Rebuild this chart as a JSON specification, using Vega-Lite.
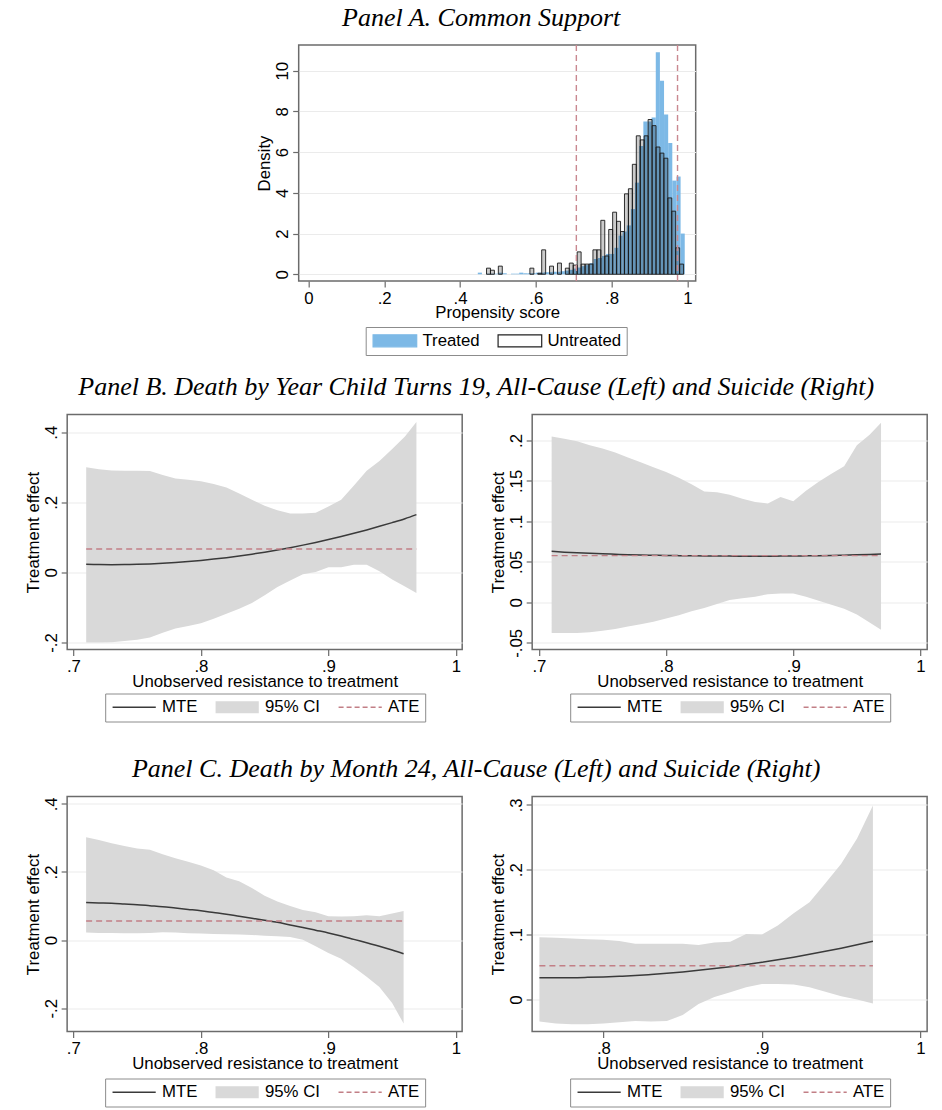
{
  "$schema": "https://vega.github.io/schema/vega-lite/v6.json",
  "background": "white",
  "padding": {"left": 24, "top": 4, "right": 0, "bottom": 0},
  "autosize": {"type": "pad"},
  "config": {
    "font": "Liberation Sans",
    "view": {"stroke": "#6b6b6b", "strokeWidth": 1.5},
    "title": {"font": "Liberation Serif", "fontStyle": "italic", "fontWeight": "normal", "fontSize": 26, "color": "#000000", "anchor": "middle", "offset": 13.5},
    "axis": {"domain": false, "tickColor": "#6b6b6b", "tickSize": 6, "tickWidth": 1.2, "labelFont": "Liberation Sans", "labelFontSize": 16.8, "labelColor": "#000000", "titleFont": "Liberation Sans", "titleFontSize": 16.8, "titleFontWeight": "normal", "titleColor": "#000000", "labelFlush": false, "labelOverlap": false, "gridColor": "#ebebeb", "gridWidth": 1.2,
      "labelExpr": "(datum.value < 0 ? '-' : '') + replace(format(abs(datum.value), '~g'), '0.', '.')"},
    "axisX": {"grid": false, "labelPadding": 3, "titlePadding": -2},
    "axisY": {"grid": true, "labelAngle": 270, "labelAlign": "center", "labelBaseline": "bottom", "labelPadding": 1, "titlePadding": 1},
    "legend": {"orient": "none", "legendX": 38, "legendY": 279, "direction": "horizontal", "padding": 5, "strokeColor": "#8c8c8c", "fillColor": "#ffffff", "labelFont": "Liberation Sans", "labelFontSize": 16.8, "labelColor": "#000000", "columnPadding": 15, "symbolSize": 144, "labelOffset": 35}
  },
  "spacing": 32.5,
  "center": true,
  "resolve": {"scale": {"color": "independent", "fill": "independent"}, "legend": {"color": "independent", "fill": "independent"}},
  "vconcat": [
    {
      "spacing": 16.5,
      "center": true,
      "resolve": {"scale": {"color": "independent", "fill": "independent"}, "legend": {"color": "independent", "fill": "independent"}},
      "vconcat": [
        {
          "title": {"text": "Panel A. Common Support", "dx": -16},
          "width": 397,
          "height": 236,
          "layer": [
            {
              "data": {"values": [
                {"b0": 0.4470, "b1": 0.4579, "dens": 0.08},
                {"b0": 0.4688, "b1": 0.4798, "dens": 0.03},
                {"b0": 0.4798, "b1": 0.4907, "dens": 0.03},
                {"b0": 0.4907, "b1": 0.5016, "dens": 0.03},
                {"b0": 0.5016, "b1": 0.5125, "dens": 0.08},
                {"b0": 0.5125, "b1": 0.5234, "dens": 0.05},
                {"b0": 0.5344, "b1": 0.5453, "dens": 0.03},
                {"b0": 0.5453, "b1": 0.5562, "dens": 0.03},
                {"b0": 0.5562, "b1": 0.5671, "dens": 0.08},
                {"b0": 0.5671, "b1": 0.5780, "dens": 0.05},
                {"b0": 0.5780, "b1": 0.5890, "dens": 0.05},
                {"b0": 0.5890, "b1": 0.5999, "dens": 0.05},
                {"b0": 0.5999, "b1": 0.6108, "dens": 0.08},
                {"b0": 0.6108, "b1": 0.6217, "dens": 0.08},
                {"b0": 0.6217, "b1": 0.6326, "dens": 0.10},
                {"b0": 0.6326, "b1": 0.6436, "dens": 0.10},
                {"b0": 0.6436, "b1": 0.6545, "dens": 0.12},
                {"b0": 0.6545, "b1": 0.6654, "dens": 0.12},
                {"b0": 0.6654, "b1": 0.6763, "dens": 0.15},
                {"b0": 0.6763, "b1": 0.6872, "dens": 0.18},
                {"b0": 0.6872, "b1": 0.6982, "dens": 0.22},
                {"b0": 0.6982, "b1": 0.7091, "dens": 0.28},
                {"b0": 0.7091, "b1": 0.7200, "dens": 0.33},
                {"b0": 0.7200, "b1": 0.7309, "dens": 0.40},
                {"b0": 0.7309, "b1": 0.7418, "dens": 0.45},
                {"b0": 0.7418, "b1": 0.7528, "dens": 0.55},
                {"b0": 0.7528, "b1": 0.7637, "dens": 0.75},
                {"b0": 0.7637, "b1": 0.7746, "dens": 0.80},
                {"b0": 0.7746, "b1": 0.7855, "dens": 0.90},
                {"b0": 0.7855, "b1": 0.7964, "dens": 1.00},
                {"b0": 0.7964, "b1": 0.8074, "dens": 1.00},
                {"b0": 0.8074, "b1": 0.8183, "dens": 1.30},
                {"b0": 0.8183, "b1": 0.8292, "dens": 1.90},
                {"b0": 0.8292, "b1": 0.8401, "dens": 2.10},
                {"b0": 0.8401, "b1": 0.8510, "dens": 2.40},
                {"b0": 0.8510, "b1": 0.8620, "dens": 3.20},
                {"b0": 0.8620, "b1": 0.8729, "dens": 4.50},
                {"b0": 0.8729, "b1": 0.8838, "dens": 6.30},
                {"b0": 0.8838, "b1": 0.8947, "dens": 7.50},
                {"b0": 0.8947, "b1": 0.9056, "dens": 7.50},
                {"b0": 0.9056, "b1": 0.9166, "dens": 7.70},
                {"b0": 0.9166, "b1": 0.9275, "dens": 10.90},
                {"b0": 0.9275, "b1": 0.9384, "dens": 9.50},
                {"b0": 0.9384, "b1": 0.9493, "dens": 7.85},
                {"b0": 0.9493, "b1": 0.9602, "dens": 6.45},
                {"b0": 0.9602, "b1": 0.9712, "dens": 4.60},
                {"b0": 0.9712, "b1": 0.9821, "dens": 4.80},
                {"b0": 0.9821, "b1": 0.9930, "dens": 2.00}
              ]},
              "mark": {"type": "rect", "fill": "#7db9e6"},
              "encoding": {
                "x": {"field": "b0", "type": "quantitative", "title": "Propensity score", "scale": {"domain": [-0.0256, 1.0219], "nice": false, "zero": false}, "axis": {"values": [0, 0.2, 0.4, 0.6, 0.8, 1]}},
                "x2": {"field": "b1"},
                "y": {"field": "dens", "type": "quantitative", "title": "Density", "scale": {"domain": [-0.33, 11.26], "nice": false, "zero": false}, "axis": {"values": [0, 2, 4, 6, 8, 10]}},
                "y2": {"datum": 0},
                "fill": {"datum": "Treated", "scale": {"domain": ["Treated", "Untreated"], "range": ["#7db9e6", "#ffffff"]},
                  "legend": {"legendX": 67, "legendY": 282, "title": null,
                    "encode": {"symbols": {"update": {
                      "shape": {"value": "M-1,-1H6.27V1H-1Z"},
                      "fill": {"signal": "datum.value === 'Treated' ? '#7db9e6' : '#ffffff'"},
                      "stroke": {"signal": "datum.value === 'Treated' ? '#7db9e6' : '#222222'"},
                      "strokeWidth": {"value": 1.2},
                      "strokeOpacity": {"value": 1},
                      "fillOpacity": {"value": 1},
                      "opacity": {"value": 1}}}}}}
              }
            },
            {
              "data": {"values": [
                {"b0": 0.4700, "b1": 0.4804, "dens": 0.3},
                {"b0": 0.4804, "b1": 0.4908, "dens": 0.2},
                {"b0": 0.5012, "b1": 0.5116, "dens": 0.4},
                {"b0": 0.5844, "b1": 0.5948, "dens": 0.3},
                {"b0": 0.6052, "b1": 0.6156, "dens": 0.05},
                {"b0": 0.6156, "b1": 0.6260, "dens": 1.2},
                {"b0": 0.6364, "b1": 0.6468, "dens": 0.4},
                {"b0": 0.6572, "b1": 0.6676, "dens": 0.55},
                {"b0": 0.6780, "b1": 0.6884, "dens": 0.3},
                {"b0": 0.6884, "b1": 0.6988, "dens": 0.55},
                {"b0": 0.6988, "b1": 0.7092, "dens": 0.45},
                {"b0": 0.7092, "b1": 0.7196, "dens": 1.1},
                {"b0": 0.7196, "b1": 0.7300, "dens": 0.5},
                {"b0": 0.7300, "b1": 0.7404, "dens": 0.5},
                {"b0": 0.7404, "b1": 0.7508, "dens": 0.5},
                {"b0": 0.7508, "b1": 0.7612, "dens": 1.2},
                {"b0": 0.7612, "b1": 0.7716, "dens": 1.2},
                {"b0": 0.7716, "b1": 0.7820, "dens": 2.65},
                {"b0": 0.7820, "b1": 0.7924, "dens": 0.9},
                {"b0": 0.7924, "b1": 0.8028, "dens": 2.2},
                {"b0": 0.8028, "b1": 0.8132, "dens": 3.05},
                {"b0": 0.8132, "b1": 0.8236, "dens": 2.6},
                {"b0": 0.8236, "b1": 0.8340, "dens": 2.1},
                {"b0": 0.8340, "b1": 0.8444, "dens": 3.95},
                {"b0": 0.8444, "b1": 0.8548, "dens": 4.2},
                {"b0": 0.8548, "b1": 0.8652, "dens": 5.4},
                {"b0": 0.8652, "b1": 0.8756, "dens": 6.8},
                {"b0": 0.8756, "b1": 0.8860, "dens": 6.6},
                {"b0": 0.8860, "b1": 0.8964, "dens": 6.8},
                {"b0": 0.8964, "b1": 0.9068, "dens": 7.6},
                {"b0": 0.9068, "b1": 0.9172, "dens": 7.3},
                {"b0": 0.9172, "b1": 0.9276, "dens": 6.25},
                {"b0": 0.9276, "b1": 0.9380, "dens": 5.95},
                {"b0": 0.9380, "b1": 0.9484, "dens": 5.7},
                {"b0": 0.9484, "b1": 0.9588, "dens": 3.75},
                {"b0": 0.9588, "b1": 0.9692, "dens": 3.1},
                {"b0": 0.9692, "b1": 0.9796, "dens": 1.3},
                {"b0": 0.9796, "b1": 0.9900, "dens": 0.5}
              ]},
              "mark": {"type": "rect", "fill": "#000000", "fillOpacity": 0.2, "stroke": "#1a1a1a", "strokeWidth": 0.9},
              "encoding": {
                "x": {"field": "b0", "type": "quantitative", "title": "Propensity score"},
                "x2": {"field": "b1"},
                "y": {"field": "dens", "type": "quantitative", "title": "Density"},
                "y2": {"datum": 0}
              }
            },
            {
              "data": {"values": [{"bound": 0.707}, {"bound": 0.974}]},
              "mark": {"type": "rule", "color": "#c98890", "strokeDash": [6, 4], "strokeWidth": 1.4},
              "encoding": {"x": {"field": "bound", "type": "quantitative", "title": "Propensity score"}}
            }
          ]
        },
        {
          "title": {"text": "Panel B. Death by Year Child Turns 19, All-Cause (Left) and Suicide (Right)"},
          "spacing": 26,
          "resolve": {"scale": {"color": "independent"}, "legend": {"color": "independent"}},
          "hconcat": [
            {
              "width": 395,
              "height": 235,
              "layer": [
                {
                  "data": {"values": [
                    {"u": 0.71, "lo": -0.200, "hi": 0.300, "mte": 0.0230},
                    {"u": 0.72, "lo": -0.200, "hi": 0.294, "mte": 0.0222},
                    {"u": 0.73, "lo": -0.199, "hi": 0.291, "mte": 0.0220},
                    {"u": 0.74, "lo": -0.196, "hi": 0.290, "mte": 0.0222},
                    {"u": 0.75, "lo": -0.192, "hi": 0.290, "mte": 0.0230},
                    {"u": 0.76, "lo": -0.186, "hi": 0.289, "mte": 0.0242},
                    {"u": 0.77, "lo": -0.172, "hi": 0.278, "mte": 0.0260},
                    {"u": 0.78, "lo": -0.160, "hi": 0.268, "mte": 0.0282},
                    {"u": 0.79, "lo": -0.153, "hi": 0.264, "mte": 0.0310},
                    {"u": 0.80, "lo": -0.145, "hi": 0.260, "mte": 0.0342},
                    {"u": 0.81, "lo": -0.132, "hi": 0.252, "mte": 0.0379},
                    {"u": 0.82, "lo": -0.118, "hi": 0.242, "mte": 0.0421},
                    {"u": 0.83, "lo": -0.104, "hi": 0.225, "mte": 0.0468},
                    {"u": 0.84, "lo": -0.087, "hi": 0.207, "mte": 0.0520},
                    {"u": 0.85, "lo": -0.065, "hi": 0.190, "mte": 0.0577},
                    {"u": 0.86, "lo": -0.042, "hi": 0.177, "mte": 0.0639},
                    {"u": 0.87, "lo": -0.023, "hi": 0.168, "mte": 0.0706},
                    {"u": 0.88, "lo": -0.005, "hi": 0.168, "mte": 0.0778},
                    {"u": 0.89, "lo": 0.001, "hi": 0.170, "mte": 0.0855},
                    {"u": 0.90, "lo": 0.015, "hi": 0.188, "mte": 0.0937},
                    {"u": 0.91, "lo": 0.015, "hi": 0.207, "mte": 0.1024},
                    {"u": 0.92, "lo": 0.022, "hi": 0.248, "mte": 0.1115},
                    {"u": 0.93, "lo": 0.022, "hi": 0.290, "mte": 0.1212},
                    {"u": 0.94, "lo": 0.003, "hi": 0.318, "mte": 0.1314},
                    {"u": 0.95, "lo": -0.020, "hi": 0.352, "mte": 0.1420},
                    {"u": 0.96, "lo": -0.040, "hi": 0.388, "mte": 0.1532},
                    {"u": 0.969, "lo": -0.059, "hi": 0.429, "mte": 0.1648}
                  ]},
                  "layer": [
                    {
                      "mark": {"type": "area", "color": "#d9d9d9", "opacity": 1},
                      "encoding": {
                        "x": {"field": "u", "type": "quantitative", "title": "Unobserved resistance to treatment", "scale": {"domain": [0.6951, 1.0049], "nice": false, "zero": false}, "axis": {"values": [0.7, 0.8, 0.9, 1]}},
                        "y": {"field": "lo", "type": "quantitative", "title": "Treatment effect", "scale": {"domain": [-0.22, 0.4505], "nice": false, "zero": false}, "axis": {"values": [-0.2, 0, 0.2, 0.4]}},
                        "y2": {"field": "hi"}
                      }
                    },
                    {
                      "mark": {"type": "line", "strokeWidth": 1.5, "interpolate": "monotone"},
                      "encoding": {
                        "x": {"field": "u", "type": "quantitative", "title": "Unobserved resistance to treatment"},
                        "y": {"field": "mte", "type": "quantitative", "title": "Treatment effect"},
                        "color": {"datum": "MTE", "scale": {"domain": ["MTE", "95% CI", "ATE"], "range": ["#3a3a3a", "#d9d9d9", "#c27f86"]},
                          "legend": {"title": null,
                            "encode": {"symbols": {"update": {
                              "shape": {"signal": "datum.value === '95% CI' ? 'M-1,-1H6.2V1H-1Z' : 'M-1,0H6.2'"},
                              "stroke": {"signal": "datum.value === 'MTE' ? '#3a3a3a' : (datum.value === 'ATE' ? '#c27f86' : 'transparent')"},
                              "fill": {"signal": "datum.value === '95% CI' ? '#d9d9d9' : 'transparent'"},
                              "strokeWidth": {"signal": "datum.value === '95% CI' ? 0 : 1.5"},
                              "strokeDash": {"signal": "datum.value === 'ATE' ? [5, 3] : [1, 0]"},
                              "opacity": {"value": 1}}}}}}
                      }
                    }
                  ]
                },
                {
                  "data": {"values": [{"ate": 0.0666, "u0": 0.71, "u1": 0.969}]},
                  "mark": {"type": "rule", "color": "#c27f86", "strokeDash": [6, 4], "strokeWidth": 1.4},
                  "encoding": {
                    "x": {"field": "u0", "type": "quantitative", "title": "Unobserved resistance to treatment"},
                    "x2": {"field": "u1"},
                    "y": {"field": "ate", "type": "quantitative", "title": "Treatment effect"}
                  }
                }
              ]
            },
            {
              "width": 395,
              "height": 235,
              "layer": [
                {
                  "data": {"values": [
                    {"u": 0.71, "lo": -0.038, "hi": 0.205, "mte": 0.0630},
                    {"u": 0.72, "lo": -0.038, "hi": 0.202, "mte": 0.0620},
                    {"u": 0.73, "lo": -0.038, "hi": 0.199, "mte": 0.0612},
                    {"u": 0.74, "lo": -0.037, "hi": 0.194, "mte": 0.0605},
                    {"u": 0.75, "lo": -0.035, "hi": 0.190, "mte": 0.0599},
                    {"u": 0.76, "lo": -0.033, "hi": 0.185, "mte": 0.0594},
                    {"u": 0.77, "lo": -0.030, "hi": 0.179, "mte": 0.0589},
                    {"u": 0.78, "lo": -0.027, "hi": 0.173, "mte": 0.0585},
                    {"u": 0.79, "lo": -0.024, "hi": 0.167, "mte": 0.0582},
                    {"u": 0.80, "lo": -0.020, "hi": 0.161, "mte": 0.0579},
                    {"u": 0.81, "lo": -0.016, "hi": 0.154, "mte": 0.0577},
                    {"u": 0.82, "lo": -0.011, "hi": 0.146, "mte": 0.0575},
                    {"u": 0.83, "lo": -0.007, "hi": 0.137, "mte": 0.0573},
                    {"u": 0.84, "lo": -0.002, "hi": 0.136, "mte": 0.0572},
                    {"u": 0.85, "lo": 0.003, "hi": 0.133, "mte": 0.0571},
                    {"u": 0.86, "lo": 0.005, "hi": 0.128, "mte": 0.0570},
                    {"u": 0.87, "lo": 0.007, "hi": 0.124, "mte": 0.0570},
                    {"u": 0.88, "lo": 0.010, "hi": 0.122, "mte": 0.0570},
                    {"u": 0.89, "lo": 0.011, "hi": 0.130, "mte": 0.0571},
                    {"u": 0.90, "lo": 0.011, "hi": 0.125, "mte": 0.0572},
                    {"u": 0.91, "lo": 0.007, "hi": 0.138, "mte": 0.0574},
                    {"u": 0.92, "lo": 0.002, "hi": 0.149, "mte": 0.0576},
                    {"u": 0.93, "lo": -0.003, "hi": 0.159, "mte": 0.0579},
                    {"u": 0.94, "lo": -0.008, "hi": 0.168, "mte": 0.0583},
                    {"u": 0.95, "lo": -0.015, "hi": 0.194, "mte": 0.0587},
                    {"u": 0.96, "lo": -0.025, "hi": 0.207, "mte": 0.0592},
                    {"u": 0.969, "lo": -0.034, "hi": 0.222, "mte": 0.0598}
                  ]},
                  "layer": [
                    {
                      "mark": {"type": "area", "color": "#d9d9d9", "opacity": 1},
                      "encoding": {
                        "x": {"field": "u", "type": "quantitative", "title": "Unobserved resistance to treatment", "scale": {"domain": [0.6947, 1.0053], "nice": false, "zero": false}, "axis": {"values": [0.7, 0.8, 0.9, 1]}},
                        "y": {"field": "lo", "type": "quantitative", "title": "Treatment effect", "scale": {"domain": [-0.0583, 0.2321], "nice": false, "zero": false}, "axis": {"values": [-0.05, 0, 0.05, 0.1, 0.15, 0.2]}},
                        "y2": {"field": "hi"}
                      }
                    },
                    {
                      "mark": {"type": "line", "strokeWidth": 1.5, "interpolate": "monotone"},
                      "encoding": {
                        "x": {"field": "u", "type": "quantitative", "title": "Unobserved resistance to treatment"},
                        "y": {"field": "mte", "type": "quantitative", "title": "Treatment effect"},
                        "color": {"datum": "MTE", "scale": {"domain": ["MTE", "95% CI", "ATE"], "range": ["#3a3a3a", "#d9d9d9", "#c27f86"]},
                          "legend": {"title": null,
                            "encode": {"symbols": {"update": {
                              "shape": {"signal": "datum.value === '95% CI' ? 'M-1,-1H6.2V1H-1Z' : 'M-1,0H6.2'"},
                              "stroke": {"signal": "datum.value === 'MTE' ? '#3a3a3a' : (datum.value === 'ATE' ? '#c27f86' : 'transparent')"},
                              "fill": {"signal": "datum.value === '95% CI' ? '#d9d9d9' : 'transparent'"},
                              "strokeWidth": {"signal": "datum.value === '95% CI' ? 0 : 1.5"},
                              "strokeDash": {"signal": "datum.value === 'ATE' ? [5, 3] : [1, 0]"},
                              "opacity": {"value": 1}}}}}}
                      }
                    }
                  ]
                },
                {
                  "data": {"values": [{"ate": 0.0577, "u0": 0.71, "u1": 0.969}]},
                  "mark": {"type": "rule", "color": "#c27f86", "strokeDash": [6, 4], "strokeWidth": 1.4},
                  "encoding": {
                    "x": {"field": "u0", "type": "quantitative", "title": "Unobserved resistance to treatment"},
                    "x2": {"field": "u1"},
                    "y": {"field": "ate", "type": "quantitative", "title": "Treatment effect"}
                  }
                }
              ]
            }
          ]
        }
      ]
    },
    {
      "title": {"text": "Panel C. Death by Month 24, All-Cause (Left) and Suicide (Right)"},
      "spacing": 26,
      "resolve": {"scale": {"color": "independent"}, "legend": {"color": "independent"}},
      "hconcat": [
        {
          "width": 395,
          "height": 235,
          "layer": [
            {
              "data": {"values": [
                {"u": 0.71, "lo": 0.022, "hi": 0.302, "mte": 0.110},
                {"u": 0.72, "lo": 0.021, "hi": 0.294, "mte": 0.109},
                {"u": 0.73, "lo": 0.021, "hi": 0.284, "mte": 0.108},
                {"u": 0.74, "lo": 0.020, "hi": 0.276, "mte": 0.106},
                {"u": 0.75, "lo": 0.020, "hi": 0.269, "mte": 0.104},
                {"u": 0.76, "lo": 0.021, "hi": 0.265, "mte": 0.101},
                {"u": 0.77, "lo": 0.023, "hi": 0.252, "mte": 0.098},
                {"u": 0.78, "lo": 0.022, "hi": 0.240, "mte": 0.094},
                {"u": 0.79, "lo": 0.020, "hi": 0.230, "mte": 0.090},
                {"u": 0.80, "lo": 0.019, "hi": 0.219, "mte": 0.086},
                {"u": 0.81, "lo": 0.018, "hi": 0.205, "mte": 0.081},
                {"u": 0.82, "lo": 0.017, "hi": 0.184, "mte": 0.076},
                {"u": 0.83, "lo": 0.016, "hi": 0.173, "mte": 0.070},
                {"u": 0.84, "lo": 0.015, "hi": 0.153, "mte": 0.064},
                {"u": 0.85, "lo": 0.013, "hi": 0.130, "mte": 0.058},
                {"u": 0.86, "lo": 0.011, "hi": 0.113, "mte": 0.052},
                {"u": 0.87, "lo": 0.009, "hi": 0.100, "mte": 0.044},
                {"u": 0.88, "lo": 0.001, "hi": 0.088, "mte": 0.037},
                {"u": 0.89, "lo": -0.018, "hi": 0.082, "mte": 0.029},
                {"u": 0.90, "lo": -0.038, "hi": 0.070, "mte": 0.021},
                {"u": 0.91, "lo": -0.055, "hi": 0.069, "mte": 0.012},
                {"u": 0.92, "lo": -0.080, "hi": 0.070, "mte": 0.002},
                {"u": 0.93, "lo": -0.108, "hi": 0.073, "mte": -0.008},
                {"u": 0.94, "lo": -0.138, "hi": 0.070, "mte": -0.018},
                {"u": 0.95, "lo": -0.185, "hi": 0.078, "mte": -0.029},
                {"u": 0.959, "lo": -0.245, "hi": 0.085, "mte": -0.040}
              ]},
              "layer": [
                {
                  "mark": {"type": "area", "color": "#d9d9d9", "opacity": 1},
                  "encoding": {
                    "x": {"field": "u", "type": "quantitative", "title": "Unobserved resistance to treatment", "scale": {"domain": [0.6951, 1.0049], "nice": false, "zero": false}, "axis": {"values": [0.7, 0.8, 0.9, 1]}},
                    "y": {"field": "lo", "type": "quantitative", "title": "Treatment effect", "scale": {"domain": [-0.2684, 0.4214], "nice": false, "zero": false}, "axis": {"values": [-0.2, 0, 0.2, 0.4]}},
                    "y2": {"field": "hi"}
                  }
                },
                {
                  "mark": {"type": "line", "strokeWidth": 1.5, "interpolate": "monotone"},
                  "encoding": {
                    "x": {"field": "u", "type": "quantitative", "title": "Unobserved resistance to treatment"},
                    "y": {"field": "mte", "type": "quantitative", "title": "Treatment effect"},
                    "color": {"datum": "MTE", "scale": {"domain": ["MTE", "95% CI", "ATE"], "range": ["#3a3a3a", "#d9d9d9", "#c27f86"]},
                      "legend": {"title": null, "legendY": 282,
                        "encode": {"symbols": {"update": {
                          "shape": {"signal": "datum.value === '95% CI' ? 'M-1,-1H6.2V1H-1Z' : 'M-1,0H6.2'"},
                          "stroke": {"signal": "datum.value === 'MTE' ? '#3a3a3a' : (datum.value === 'ATE' ? '#c27f86' : 'transparent')"},
                          "fill": {"signal": "datum.value === '95% CI' ? '#d9d9d9' : 'transparent'"},
                          "strokeWidth": {"signal": "datum.value === '95% CI' ? 0 : 1.5"},
                          "strokeDash": {"signal": "datum.value === 'ATE' ? [5, 3] : [1, 0]"},
                          "opacity": {"value": 1}}}}}}
                  }
                }
              ]
            },
            {
              "data": {"values": [{"ate": 0.0558, "u0": 0.71, "u1": 0.959}]},
              "mark": {"type": "rule", "color": "#c27f86", "strokeDash": [6, 4], "strokeWidth": 1.4},
              "encoding": {
                "x": {"field": "u0", "type": "quantitative", "title": "Unobserved resistance to treatment"},
                "x2": {"field": "u1"},
                "y": {"field": "ate", "type": "quantitative", "title": "Treatment effect"}
              }
            }
          ]
        },
        {
          "width": 395,
          "height": 235,
          "layer": [
            {
              "data": {"values": [
                {"u": 0.7596, "lo": -0.034, "hi": 0.096, "mte": 0.0336},
                {"u": 0.77, "lo": -0.037, "hi": 0.095, "mte": 0.0335},
                {"u": 0.78, "lo": -0.038, "hi": 0.094, "mte": 0.0336},
                {"u": 0.79, "lo": -0.038, "hi": 0.093, "mte": 0.0341},
                {"u": 0.80, "lo": -0.037, "hi": 0.092, "mte": 0.0348},
                {"u": 0.81, "lo": -0.035, "hi": 0.090, "mte": 0.0358},
                {"u": 0.82, "lo": -0.033, "hi": 0.086, "mte": 0.0370},
                {"u": 0.83, "lo": -0.034, "hi": 0.086, "mte": 0.0386},
                {"u": 0.84, "lo": -0.033, "hi": 0.086, "mte": 0.0404},
                {"u": 0.85, "lo": -0.024, "hi": 0.086, "mte": 0.0425},
                {"u": 0.86, "lo": -0.007, "hi": 0.084, "mte": 0.0449},
                {"u": 0.87, "lo": 0.004, "hi": 0.088, "mte": 0.0476},
                {"u": 0.88, "lo": 0.011, "hi": 0.089, "mte": 0.0506},
                {"u": 0.89, "lo": 0.019, "hi": 0.101, "mte": 0.0538},
                {"u": 0.90, "lo": 0.024, "hi": 0.100, "mte": 0.0573},
                {"u": 0.91, "lo": 0.024, "hi": 0.114, "mte": 0.0611},
                {"u": 0.92, "lo": 0.023, "hi": 0.133, "mte": 0.0652},
                {"u": 0.93, "lo": 0.019, "hi": 0.150, "mte": 0.0696},
                {"u": 0.94, "lo": 0.012, "hi": 0.179, "mte": 0.0742},
                {"u": 0.95, "lo": 0.005, "hi": 0.209, "mte": 0.0791},
                {"u": 0.96, "lo": 0.000, "hi": 0.248, "mte": 0.0843},
                {"u": 0.97, "lo": -0.006, "hi": 0.299, "mte": 0.0899}
              ]},
              "layer": [
                {
                  "mark": {"type": "area", "color": "#d9d9d9", "opacity": 1},
                  "encoding": {
                    "x": {"field": "u", "type": "quantitative", "title": "Unobserved resistance to treatment", "scale": {"domain": [0.755, 1.0042], "nice": false, "zero": false}, "axis": {"values": [0.8, 0.9, 1]}},
                    "y": {"field": "lo", "type": "quantitative", "title": "Treatment effect", "scale": {"domain": [-0.0493, 0.3128], "nice": false, "zero": false}, "axis": {"values": [0, 0.1, 0.2, 0.3]}},
                    "y2": {"field": "hi"}
                  }
                },
                {
                  "mark": {"type": "line", "strokeWidth": 1.5, "interpolate": "monotone"},
                  "encoding": {
                    "x": {"field": "u", "type": "quantitative", "title": "Unobserved resistance to treatment"},
                    "y": {"field": "mte", "type": "quantitative", "title": "Treatment effect"},
                    "color": {"datum": "MTE", "scale": {"domain": ["MTE", "95% CI", "ATE"], "range": ["#3a3a3a", "#d9d9d9", "#c27f86"]},
                      "legend": {"title": null, "legendY": 282,
                        "encode": {"symbols": {"update": {
                          "shape": {"signal": "datum.value === '95% CI' ? 'M-1,-1H6.2V1H-1Z' : 'M-1,0H6.2'"},
                          "stroke": {"signal": "datum.value === 'MTE' ? '#3a3a3a' : (datum.value === 'ATE' ? '#c27f86' : 'transparent')"},
                          "fill": {"signal": "datum.value === '95% CI' ? '#d9d9d9' : 'transparent'"},
                          "strokeWidth": {"signal": "datum.value === '95% CI' ? 0 : 1.5"},
                          "strokeDash": {"signal": "datum.value === 'ATE' ? [5, 3] : [1, 0]"},
                          "opacity": {"value": 1}}}}}}
                  }
                }
              ]
            },
            {
              "data": {"values": [{"ate": 0.0519, "u0": 0.7596, "u1": 0.97}]},
              "mark": {"type": "rule", "color": "#c27f86", "strokeDash": [6, 4], "strokeWidth": 1.4},
              "encoding": {
                "x": {"field": "u0", "type": "quantitative", "title": "Unobserved resistance to treatment"},
                "x2": {"field": "u1"},
                "y": {"field": "ate", "type": "quantitative", "title": "Treatment effect"}
              }
            }
          ]
        }
      ]
    }
  ]
}
